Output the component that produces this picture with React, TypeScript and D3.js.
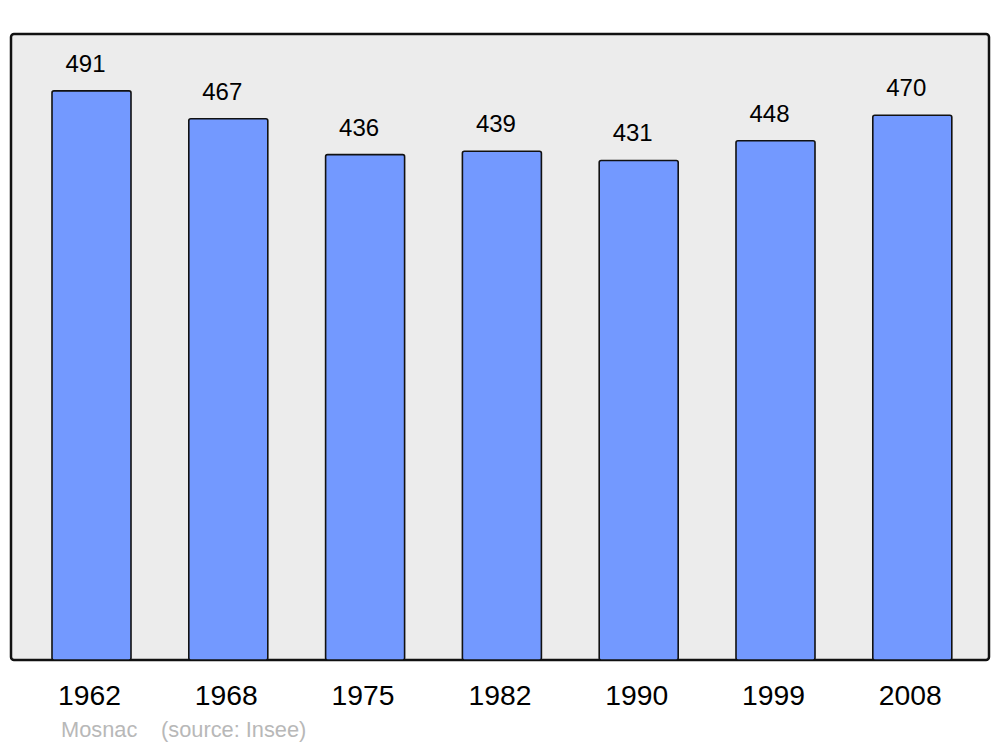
import React from "react";
import * as d3 from "d3";

const years = ["1962", "1968", "1975", "1982", "1990", "1999", "2008"];
const population = [491, 467, 436, 439, 431, 448, 470];
const commune = "Mosnac";
const source = "(source: Insee)";

export default function App() {
  const W = 1000, H = 747;
  const panel = { x: 11, y: 34, w: 978, h: 626 };
  const x = d3.scaleBand<string>().domain(years).range([23.1, 980.7]).paddingInner(0.4225).paddingOuter(0.21125);
  const y = d3.scaleLinear().domain([0, d3.max(population)! * 1.1]).range([660, 34]);
  const font = "'Liberation Sans', Arial, sans-serif";
  return (
    <svg width={W} height={H} style={{ position: "absolute", left: 0, top: 0 }}>
      <rect x={0} y={0} width={W} height={H} fill="#ffffff" />
      <rect x={panel.x} y={panel.y} width={panel.w} height={panel.h} rx={3} fill="#ececec" stroke="#111" strokeWidth={2.5} />
      {years.map((yr, i) => {
        const bx = x(yr)!;
        const bw = x.bandwidth();
        const top = y(population[i]);
        return (
          <g key={yr}>
            <rect x={bx} y={top} width={bw} height={y(0) - top} rx={2} fill="#7399ff" stroke="#111" strokeWidth={1.6} />
            <text x={bx + bw / 2 - 6} y={top - 19} textAnchor="middle" fontFamily={font} fontSize={24} fill="#000">{population[i]}</text>
            <text x={bx + bw / 2 - 2} y={705} textAnchor="middle" fontFamily={font} fontSize={28.3} fill="#000">{yr}</text>
          </g>
        );
      })}
      <text x={61} y={737} fontFamily={font} fontSize={21.8} fill="#b8b8b8">{commune}</text>
      <text x={161} y={737} fontFamily={font} fontSize={21.8} fill="#b8b8b8">{source}</text>
    </svg>
  );
}
